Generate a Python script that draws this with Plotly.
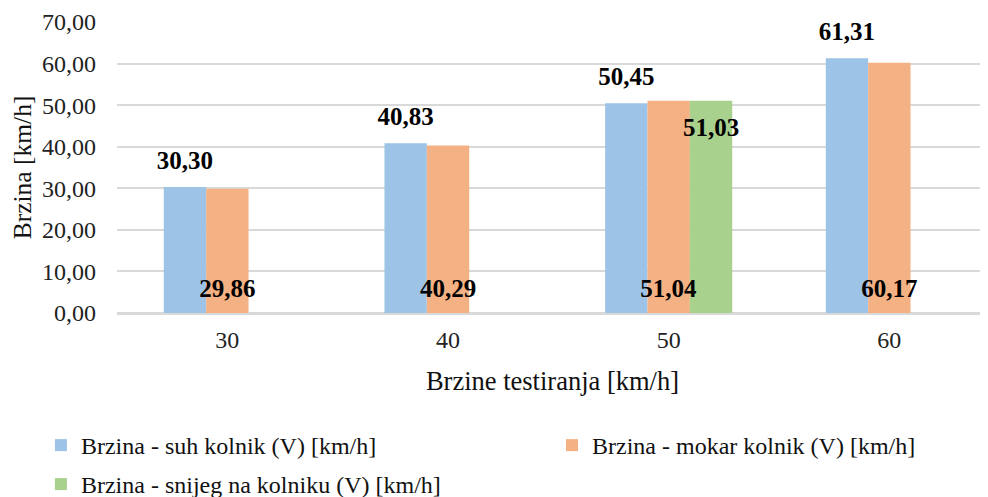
import plotly.graph_objects as go

categories = ["30", "40", "50", "60"]
suh = [30.30, 40.83, 50.45, 61.31]
mokar = [29.86, 40.29, 51.04, 60.17]
snijeg = [None, None, 51.03, None]
names = ["Brzina - suh kolnik (V) [km/h]",
         "Brzina - mokar kolnik (V) [km/h]",
         "Brzina - snijeg na kolniku (V) [km/h]"]
colors = ["#9DC3E6", "#F4B183", "#A9D18E"]
y_ticks = [0, 10, 20, 30, 40, 50, 60, 70]

FONT = "Liberation Serif"
NUM = "<span style='font-size:25px'>%{y:.2f}</span>"
GHOST = "<span style='color:rgba(0,0,0,0)'>.</span>"
GHOST_TOP = "<span style='color:rgba(0,0,0,0);font-size:10px'>.</span>"
BW = 0.192  # bar width in category units

series = [
    # values, name, color, offset, legend, label template, text position, anchor, base font size
    (suh, names[0], colors[0], -1.5 * BW, "legend", NUM + "<br>" + GHOST, "outside", None, 10),
    (mokar, names[1], colors[1], -0.5 * BW, "legend2", NUM + "<br>" + GHOST, "inside", "start", 8.8),
    (snijeg, names[2], colors[2], 0.5 * BW, "legend3", GHOST_TOP + "<br>" + NUM, "inside", "end", 18),
]

fig = go.Figure()
# bars
for vals, name, col, off, lg, _, _, _, _ in series:
    fig.add_trace(go.Bar(x=categories, y=vals, name=name, marker_color=col,
                         marker_line_width=0, width=BW, offset=off, legend=lg,
                         hoverinfo="skip"))
# labels layer on top of all bars
for vals, name, col, off, lg, tmpl, pos, anchor, fs in series:
    tf = dict(family=FONT, size=fs, color="black", weight="bold")
    kw = dict(outsidetextfont=tf) if pos == "outside" else dict(insidetextfont=tf,
                                                                  insidetextanchor=anchor)
    fig.add_trace(go.Bar(x=categories, y=vals, name=name, showlegend=False,
                         marker_color="rgba(0,0,0,0)", marker_line_width=0,
                         width=BW, offset=off, texttemplate=tmpl, textposition=pos,
                         textangle=0, constraintext="none", cliponaxis=False,
                         hoverinfo="skip", **kw))

leg = dict(orientation="h", xref="container", yref="container",
           xanchor="left", yanchor="top", font=dict(family=FONT, size=24, color="#111"),
           bgcolor="rgba(0,0,0,0)", borderwidth=0)

# the page body adds an 8px offset, so the figure is 980x489
fig.update_layout(
    width=980, height=489,
    margin=dict(l=109, r=0, t=14, b=184, autoexpand=False),
    paper_bgcolor="white", plot_bgcolor="white",
    font=dict(family=FONT, size=24, color="#000000"),
    separators=",.",
    barmode="overlay",
    showlegend=True,
    legend=dict(leg, x=0.0336, y=0.1513),
    legend2=dict(leg, x=0.5551, y=0.1513),
    legend3=dict(leg, x=0.0336, y=0.0716),
)
fig.update_xaxes(
    type="category", range=[-0.5, 3.447], automargin=False,
    showline=True, linecolor="#D9D9D9", linewidth=1.5,
    ticks="", ticklabelstandoff=4,
    title=dict(text="Brzine testiranja [km/h]", font=dict(family=FONT, size=26.5, color="#111"),
               standoff=20),
    tickfont=dict(family=FONT, size=24, color="#222"),
)
fig.update_yaxes(
    range=[0, 70], tickvals=y_ticks, tickformat=".2f", automargin=False,
    showgrid=True, gridcolor="#D9D9D9", gridwidth=1.5,
    zeroline=True, zerolinecolor="#D9D9D9", zerolinewidth=1.5,
    ticks="", ticklabelstandoff=20,
    title=dict(text="Brzina [km/h]", font=dict(family=FONT, size=25.5, color="#111"), standoff=6),
    tickfont=dict(family=FONT, size=24, color="#222"),
)

fig.write_html("out.html")
